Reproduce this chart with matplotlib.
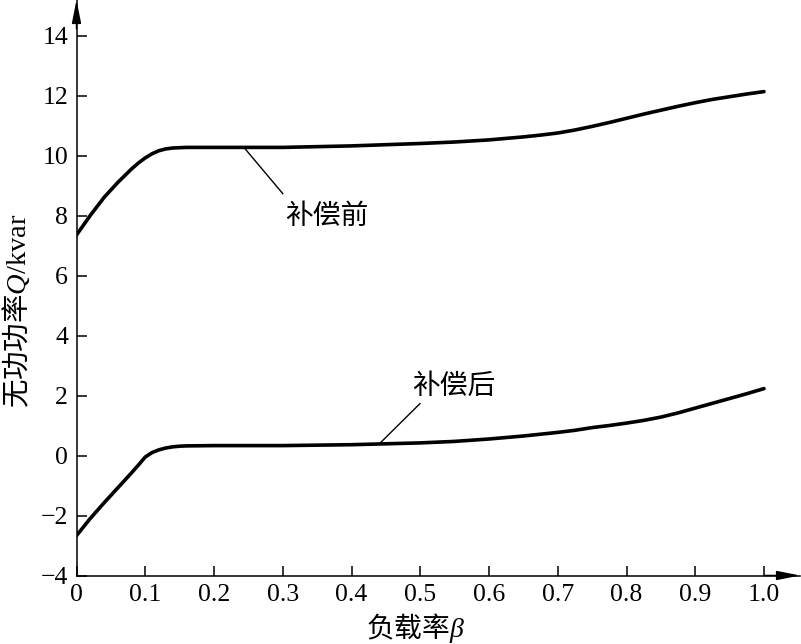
import matplotlib
matplotlib.use("Agg")
import matplotlib.pyplot as plt

plt.rcParams['font.family'] = ['Liberation Serif', 'Noto Sans CJK SC', 'DejaVu Sans']
plt.rcParams['mathtext.fontset'] = 'custom'
plt.rcParams['mathtext.rm'] = 'Liberation Serif'
plt.rcParams['mathtext.it'] = 'Liberation Serif:italic'
plt.rcParams['axes.unicode_minus'] = True

# Data
beta_b = [0.0, 0.02, 0.04, 0.06, 0.08, 0.09, 0.10, 0.11, 0.12, 0.13, 0.14, 0.16, 0.20,
          0.30, 0.40, 0.50, 0.55, 0.60, 0.65, 0.675, 0.70, 0.725, 0.75, 0.775, 0.80,
          0.825, 0.85, 0.875, 0.90, 0.925, 0.95, 0.975, 1.00]
q_before = [7.35, 8.0, 8.6, 9.1, 9.55, 9.75, 9.92, 10.06, 10.16, 10.22, 10.25, 10.27, 10.27,
            10.27, 10.32, 10.40, 10.45, 10.52, 10.62, 10.68, 10.75, 10.85, 10.97, 11.1, 11.24,
            11.38, 11.51, 11.64, 11.76, 11.87, 11.96, 12.05, 12.13]

beta_a = [0.0, 0.02, 0.04, 0.06, 0.08, 0.09, 0.10, 0.11, 0.12, 0.13, 0.14, 0.15, 0.16, 0.20,
          0.30, 0.40, 0.50, 0.55, 0.60, 0.65, 0.70, 0.725, 0.75, 0.775, 0.80, 0.825,
          0.85, 0.875, 0.90, 0.925, 0.95, 0.975, 1.00]
q_after = [-2.67, -2.1, -1.58, -1.08, -0.58, -0.32, -0.05, 0.1, 0.19, 0.25, 0.29, 0.31, 0.32, 0.33,
           0.33, 0.36, 0.42, 0.47, 0.55, 0.65, 0.77, 0.84, 0.93, 1.0, 1.08, 1.17,
           1.28, 1.42, 1.58, 1.74, 1.9, 2.06, 2.23]

x_ticks = [0.0, 0.1, 0.2, 0.3, 0.4, 0.5, 0.6, 0.7, 0.8, 0.9, 1.0]
x_tick_labels = ["0", "0.1", "0.2", "0.3", "0.4", "0.5", "0.6", "0.7", "0.8", "0.9", "1.0"]
y_ticks = [-4, -2, 0, 2, 4, 6, 8, 10, 12, 14]

label_before = "补偿前"
label_after = "补偿后"

W, H = 801, 644
fig = plt.figure(figsize=(W / 100, H / 100), dpi=100)
x0_px, x1_px = 76.5, 800
ytop_px, ybot_px = 0, 575.5
ax = fig.add_axes([x0_px / W, (H - ybot_px) / H, (x1_px - x0_px) / W, (ybot_px - ytop_px) / H])

ax.plot(beta_b, q_before, color='black', lw=2.6, solid_capstyle='round', solid_joinstyle='round')
ax.plot(beta_a, q_after, color='black', lw=2.6, solid_capstyle='round', solid_joinstyle='round')

ax.set_xlim(0, (x1_px - x0_px) / 687.5)
ax.set_ylim(-4, -4 + (ybot_px - ytop_px) / 30.0)

for s in ['top', 'right']:
    ax.spines[s].set_visible(False)
for s in ['left', 'bottom']:
    ax.spines[s].set_linewidth(1.1)

ax.set_xticks(x_ticks)
ax.set_xticklabels(x_tick_labels)
ax.set_yticks(y_ticks)
ax.tick_params(direction='in', length=7, width=1.1, labelsize=18.5, pad=6)

# arrows
arrow = dict(arrowstyle='-|>,head_length=1.4,head_width=0.28', color='black', lw=1.1,
             shrinkA=0, shrinkB=0)
ax.annotate('', xy=(1, 0), xytext=(0.95, 0), xycoords='axes fraction',
            arrowprops=arrow, annotation_clip=False)
ax.annotate('', xy=(0, 1), xytext=(0, 0.95), xycoords='axes fraction',
            arrowprops=arrow, annotation_clip=False)

cjk = ['Noto Sans CJK SC', 'DejaVu Sans']
ax.set_xlabel("负载率$\\beta$", fontsize=20, family=cjk)
ax.xaxis.set_label_coords(0.469, -0.062)
ax.set_ylabel("无功功率$Q/\\mathrm{kvar}$", fontsize=20.5, family=cjk)
ax.yaxis.set_label_coords(-0.06, 0.46)

# leader lines and labels
ax.plot([0.245, 0.300], [10.23, 8.73], color='black', lw=1.0)
ax.text(0.303, 8.0, label_before, fontsize=20, family=cjk, ha='left', va='center')
ax.plot([0.441, 0.4996], [0.40, 1.73], color='black', lw=1.0)
ax.text(0.488, 2.33, label_after, fontsize=20, family=cjk, ha='left', va='center')

fig.savefig("out.png", dpi=100)
